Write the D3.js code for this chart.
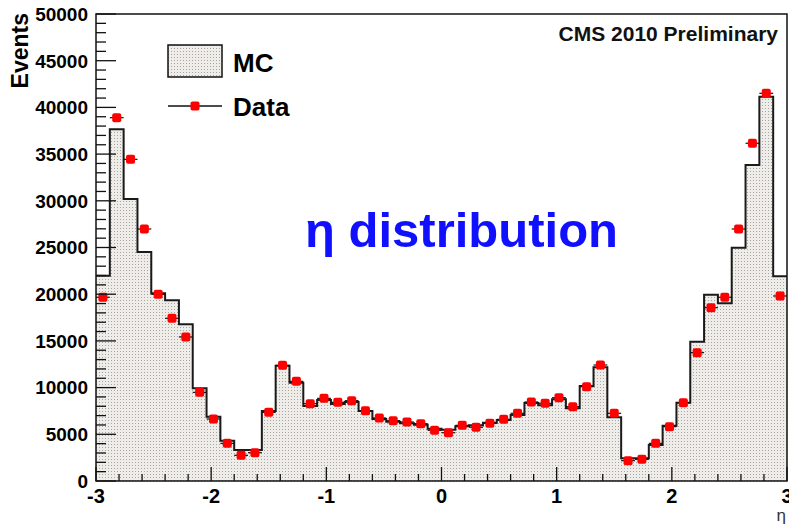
<!DOCTYPE html>
<html>
  <head>
    <meta charset="utf-8" />
    <title>eta distribution</title>
    <script src="https://d3js.org/d3.v7.min.js"></script>
    <style>
      body {
        margin: 0;
        background: white;
      }
      text {
        font-family: "Liberation Sans", Arial, sans-serif;
      }
    </style>
  </head>
  <body>

    <svg id="viz"></svg>

    <script>

      // binning: 50 bins from -3 to 3
      var etaMin = -3;
      var etaMax = 3;
      var nBins = 50;

      // MC histogram contents, one per bin
      var mcCounts = [21980, 37660, 30190, 24520, 20090, 19340, 16770, 9920, 6890, 4320,
                      3320, 3320, 7490, 12350, 10530, 8030, 8670, 8240, 8460, 7490,
                      6650, 6350, 6170, 6030, 5600, 5500, 5870, 5960, 6250, 6530,
                      7070, 8350, 8100, 8750, 7780, 10170, 12170, 6820, 2430, 2430,
                      3850, 5920, 8380, 14920, 19950, 19020, 24980, 33830, 41150, 21920];

      // data points, one per bin
      var dataCounts = [19670, 38900, 34440, 26980, 19990, 17420, 15420, 9490, 6640, 4030,
                        2750, 3030, 7350, 12380, 10670, 8280, 8850, 8420, 8600, 7530,
                        6750, 6460, 6320, 6140, 5430, 5170, 5960, 5750, 6170, 6600,
                        7250, 8460, 8320, 8920, 7960, 10100, 12420, 7250, 2180, 2320,
                        4030, 5820, 8390, 13740, 18560, 19670, 26980, 36160, 41510, 19810];

      var xTicks = [-3, -2, -1, 0, 1, 2, 3];
      var yTicks = [0, 5000, 10000, 15000, 20000, 25000, 30000, 35000, 40000, 45000, 50000];

      var width = 789;
      var height = 524;
      var pLeft = 96, pRight = 787, pTop = 14, pBottom = 481;

      var svg = d3.select("#viz")
        .attr("width", width)
        .attr("height", height);

      // dotted fill like the ROOT pattern
      var defs = svg.append("defs");
      var pat = defs.append("pattern")
        .attr("id", "dots")
        .attr("patternUnits", "userSpaceOnUse")
        .attr("width", 3)
        .attr("height", 3);
      pat.append("rect").attr("width", 3).attr("height", 3).attr("fill", "#efedea");
      pat.append("rect").attr("width", 1).attr("height", 1).attr("fill", "#aaa49e");

      var x = d3.scaleLinear().domain([etaMin, etaMax]).range([pLeft, pRight]);
      var y = d3.scaleLinear().domain([0, 50000]).range([pBottom, pTop]);

      var binW = (etaMax - etaMin) / nBins;
      var edges = d3.range(nBins + 1).map(function(i) { return etaMin + i * binW; });

      // step points for the histogram
      var steps = mcCounts.map(function(v, i) { return [edges[i], v]; });
      steps.push([edges[nBins], mcCounts[nBins - 1]]);

      var area = d3.area()
        .curve(d3.curveStepAfter)
        .x(function(d) { return x(d[0]); })
        .y0(y(0))
        .y1(function(d) { return y(d[1]); });

      var line = d3.line()
        .curve(d3.curveStepAfter)
        .x(function(d) { return x(d[0]); })
        .y(function(d) { return y(d[1]); });

      svg.append("path")
        .attr("d", area(steps))
        .attr("fill", "url(#dots)");

      svg.append("path")
        .attr("d", line(steps))
        .attr("fill", "none")
        .attr("stroke", "#1a1a1a")
        .attr("stroke-width", 2);

      // data: horizontal error bars + markers
      var pts = svg.append("g");
      dataCounts.forEach(function(v, i) {
        var cx = x(edges[i] + binW / 2);
        pts.append("line")
          .attr("x1", x(edges[i])).attr("x2", x(edges[i + 1]))
          .attr("y1", y(v)).attr("y2", y(v))
          .attr("stroke", "#111").attr("stroke-width", 1.2);
        pts.append("rect")
          .attr("x", cx - 4.5).attr("y", y(v) - 4.5)
          .attr("width", 9).attr("height", 9)
          .attr("rx", 2)
          .attr("fill", "#ff0000");
      });

      // frame
      svg.append("rect")
        .attr("x", pLeft).attr("y", pTop)
        .attr("width", pRight - pLeft).attr("height", pBottom - pTop)
        .attr("fill", "none")
        .attr("stroke", "#111")
        .attr("stroke-width", 1.5);

      // y ticks
      var yAxis = svg.append("g");
      d3.range(0, 50001, 1000).forEach(function(v) {
        var major = v % 5000 === 0;
        yAxis.append("line")
          .attr("x1", pLeft).attr("x2", pLeft + (major ? 20 : 10))
          .attr("y1", y(v)).attr("y2", y(v))
          .attr("stroke", "#111").attr("stroke-width", 1.3);
      });
      yAxis.selectAll("text.ylab")
        .data(yTicks)
        .enter().append("text")
        .attr("x", 88)
        .attr("y", function(d) { return y(d); })
        .attr("dy", "0.36em")
        .attr("text-anchor", "end")
        .attr("font-size", 19)
        .attr("font-weight", "bold")
        .text(function(d) { return d; });

      // x ticks
      var xAxis = svg.append("g");
      d3.range(0, 31).forEach(function(i) {
        var v = etaMin + i * 0.2;
        var major = i % 5 === 0;
        xAxis.append("line")
          .attr("x1", x(v)).attr("x2", x(v))
          .attr("y1", pBottom).attr("y2", pBottom - (major ? 14 : 7))
          .attr("stroke", "#111").attr("stroke-width", 1.3);
      });
      xAxis.selectAll("text.xlab")
        .data(xTicks)
        .enter().append("text")
        .attr("x", function(d) { return x(d); })
        .attr("y", 503)
        .attr("text-anchor", "middle")
        .attr("font-size", 20)
        .attr("font-weight", "bold")
        .text(function(d) { return d; });

      // axis titles
      svg.append("text")
        .attr("transform", "translate(28,13) rotate(-90)")
        .attr("text-anchor", "end")
        .attr("font-size", 23)
        .attr("font-weight", "bold")
        .text("Events");

      svg.append("text")
        .attr("x", 786)
        .attr("y", 521)
        .attr("text-anchor", "end")
        .attr("font-size", 17)
        .attr("fill", "#333")
        .text("η");

      // legend
      svg.append("rect")
        .attr("x", 168).attr("y", 45)
        .attr("width", 54).attr("height", 32)
        .attr("fill", "url(#dots)")
        .attr("stroke", "#111").attr("stroke-width", 1.5);
      svg.append("text")
        .attr("x", 233).attr("y", 72)
        .attr("font-size", 26).attr("font-weight", "bold")
        .text("MC");
      svg.append("line")
        .attr("x1", 168).attr("x2", 222)
        .attr("y1", 106).attr("y2", 106)
        .attr("stroke", "#111").attr("stroke-width", 1.5);
      svg.append("rect")
        .attr("x", 190.5).attr("y", 101.5)
        .attr("width", 9).attr("height", 9)
        .attr("rx", 2)
        .attr("fill", "#ff0000");
      svg.append("text")
        .attr("x", 233).attr("y", 116)
        .attr("font-size", 26).attr("font-weight", "bold")
        .text("Data");

      svg.append("text")
        .attr("x", 778).attr("y", 41)
        .attr("text-anchor", "end")
        .attr("font-size", 21).attr("font-weight", "bold")
        .attr("fill", "#111")
        .text("CMS 2010 Preliminary");

      var title = svg.append("text")
        .attr("x", 305).attr("y", 247)
        .attr("font-size", 49).attr("font-weight", "bold")
        .attr("fill", "#1010ff");
      title.append("tspan").text("η");
      title.append("tspan").text(" distribution");

    </script>
  </body>
</html>
